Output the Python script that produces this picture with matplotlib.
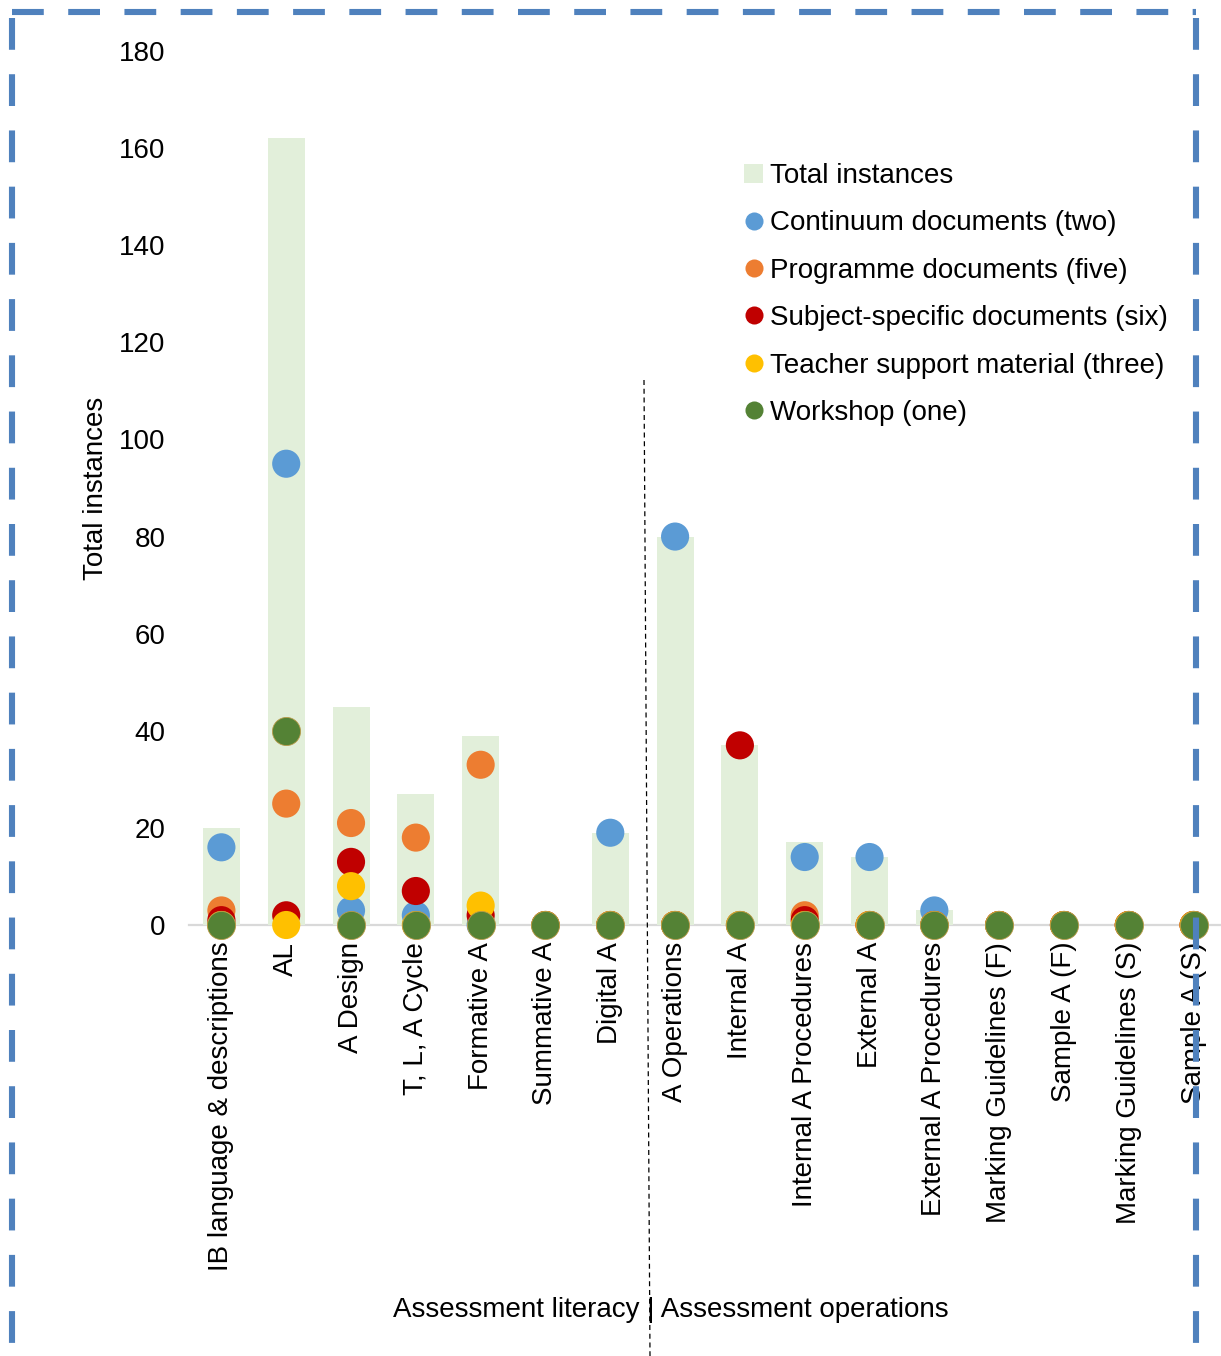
import numpy as np
import matplotlib
matplotlib.use("Agg")
import matplotlib.pyplot as plt
from matplotlib.lines import Line2D
from matplotlib.patches import Patch

plt.rcParams['font.family'] = ['Liberation Sans', 'DejaVu Sans']

categories = ["IB language & descriptions", "AL", "A Design", "T, L, A Cycle",
              "Formative A", "Summative A", "Digital A", "A Operations",
              "Internal A", "Internal A Procedures", "External A",
              "External A Procedures", "Marking Guidelines (F)", "Sample A (F)",
              "Marking Guidelines (S)", "Sample A (S)"]

total = [20, 162, 45, 27, 39, 0, 19, 80, 37, 17, 14, 3, 0, 0, 0, 0]
continuum = [16, 95, 3, 2, 0, 0, 19, 80, 0, 14, 14, 3, 0, 0, 0, 0]
programme = [3, 25, 21, 18, 33, 0, 0, 0, 0, 2, 0, 0, 0, 0, 0, 0]
subject = [1, 2, 13, 7, 2, 0, 0, 0, 37, 1, 0, 0, 0, 0, 0, 0]
teacher = [0, 0, 8, 0, 4, 0, 0, 0, 0, 0, 0, 0, 0, 0, 0, 0]
workshop = [0, 40, 0, 0, 0, 0, 0, 0, 0, 0, 0, 0, 0, 0, 0, 0]

series = [
    ("Continuum documents (two)", continuum, "#5B9BD5"),
    ("Programme documents (five)", programme, "#ED7D31"),
    ("Subject-specific documents (six)", subject, "#C00000"),
    ("Teacher support material (three)", teacher, "#FFC000"),
    ("Workshop (one)", workshop, "#548235"),
]
bar_color = "#E2EFDA"
fs = 20

W, H = 1221, 1356
fig = plt.figure(figsize=(W / 100, H / 100), dpi=100)
# axes spans past the right edge, the last category sits right on it
ax = fig.add_axes([189 / W, 1 - 925 / H, (1226 - 189) / W, (925 - 51) / H])

x = np.arange(len(categories))
ax.bar(x, total, width=0.57, color=bar_color, zorder=1)
for name, vals, col in series:
    ax.scatter(x, vals, s=410, color=col, zorder=3, clip_on=False,
               edgecolors="#B89B4A" if col == "#548235" else "none", linewidths=0.6)

ax.set_xlim(-0.5, len(categories) - 0.5)
ax.set_ylim(0, 180)
ax.set_yticks(np.arange(0, 181, 20))
ax.tick_params(axis="y", length=0, pad=17, labelsize=fs)
ax.tick_params(axis="x", length=0, pad=12, labelsize=fs)
ax.set_xticks(x)
ax.set_xticklabels(categories, rotation=90, va="top", ha="center")
for s in ["top", "right", "left"]:
    ax.spines[s].set_visible(False)
ax.spines["bottom"].set_color("#D9D9D9")
ax.spines["bottom"].set_linewidth(1.6)
ax.spines["bottom"].set_zorder(0)
ax.set_ylabel("Total instances", fontsize=fs, labelpad=7)

handles = [Patch(facecolor=bar_color, edgecolor="none", label="Total instances")]
for name, vals, col in series:
    handles.append(Line2D([], [], marker="o", linestyle="none", markersize=13,
                          markerfacecolor=col, markeredgecolor="none", label=name))
fig.legend(handles=handles, loc="upper left", bbox_to_anchor=(744 / W, 1 - 163 / H),
           frameon=False, fontsize=fs, handlelength=0.7, handletextpad=0.25,
           labelspacing=0.77, borderaxespad=0, borderpad=0)

# divider between the two groups of categories
fig.add_artist(Line2D([644 / W, 650 / W], [1 - 380 / H, 0], color="black",
                      linewidth=0.9, linestyle=(0, (4, 3))))
fig.text(671 / W, 1 - 1310 / H, "Assessment literacy | Assessment operations",
         fontsize=fs, ha="center", va="center")

# dashed frame around the chart
frame = dict(color="#4F81BD", linewidth=4.4, linestyle=(0, (5.2, 4.0)),
             solid_capstyle="butt", dash_capstyle="butt", zorder=10)
fig.add_artist(Line2D([12 / W, 1196 / W], [1 - 12 / H, 1 - 12 / H], **frame))
fig.add_artist(Line2D([12 / W, 12 / W], [1 - 18 / H, 0], **frame))
fig.add_artist(Line2D([1196 / W, 1196 / W], [1 - 18 / H, 0], **frame))

fig.savefig("out.png", dpi=100)
